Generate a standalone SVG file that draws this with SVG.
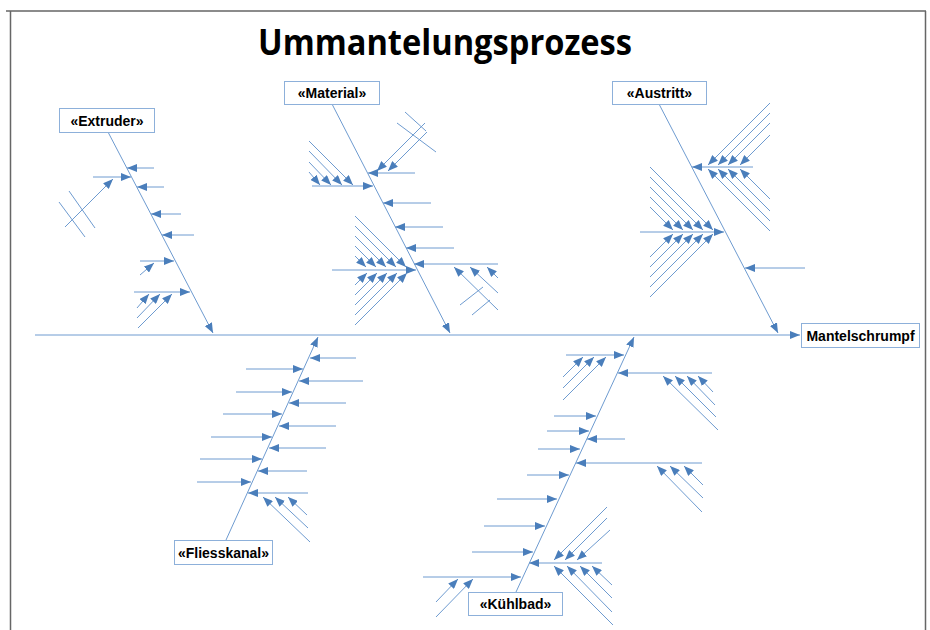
<svg xmlns="http://www.w3.org/2000/svg" width="930" height="630" viewBox="0 0 930 630">
<defs>
<marker id="ah" markerUnits="userSpaceOnUse" markerWidth="10" markerHeight="8" refX="10" refY="4" orient="auto" viewBox="0 0 10 8">
<path d="M0,0 L10,4 L0,8 z" fill="#4A7EBB"/>
</marker>
</defs>
<style>
line{stroke:#6E9BD0;stroke-width:1;fill:none}
.a{marker-end:url(#ah)}
.box{fill:#fff;stroke:#8DB0DA;stroke-width:1}
.lbl{font-family:"Liberation Sans",Arial,sans-serif;font-weight:bold;font-size:14px;fill:#000;text-anchor:middle}
.frame{stroke:#666;stroke-width:1.5;fill:none}
</style>
<rect width="930" height="630" fill="#fff"/>
<path class="frame" d="M10.5,630 L10.5,11 M6,11 L926,11 M925.5,11 L925.5,630"/>
<text x="445" y="55" font-family="'Open Sans','Liberation Sans',sans-serif" font-weight="bold" font-size="36" text-anchor="middle" textLength="374" lengthAdjust="spacingAndGlyphs" fill="#000">Ummantelungsprozess</text>

<g id="connectors">
<line class="a" x1="35" y1="335" x2="800" y2="335"/>
<!-- main bones -->
<line class="a" x1="108" y1="132" x2="213" y2="333"/>
<line class="a" x1="332" y1="104" x2="450" y2="333"/>
<line class="a" x1="659" y1="104" x2="778" y2="333"/>
<line class="a" x1="226" y1="540" x2="318" y2="337"/>
<line class="a" x1="516" y1="592" x2="634" y2="337"/>
<!-- Extruder -->
<line class="a" x1="154" y1="168" x2="127" y2="168"/>
<line class="a" x1="93" y1="177" x2="131" y2="177"/>
<line class="a" x1="65" y1="227" x2="113" y2="179"/>
<line x1="69" y1="191" x2="95" y2="228"/>
<line x1="59" y1="202" x2="85" y2="237"/>
<line class="a" x1="164" y1="187" x2="137" y2="187"/>
<line class="a" x1="181" y1="214" x2="151" y2="214"/>
<line class="a" x1="194" y1="235" x2="162" y2="235"/>
<line class="a" x1="140" y1="261" x2="174" y2="261"/>
<line class="a" x1="140" y1="275" x2="154" y2="263"/>
<line class="a" x1="134" y1="292" x2="190" y2="292"/>
<line class="a" x1="137" y1="308" x2="149" y2="294"/>
<line class="a" x1="137" y1="318" x2="160" y2="294"/>
<line class="a" x1="138" y1="328" x2="172" y2="294"/>
<!-- Material -->
<line class="a" x1="425" y1="123" x2="377" y2="171"/>
<line class="a" x1="427" y1="132" x2="388" y2="171"/>
<line x1="405" y1="112" x2="426" y2="131"/>
<line x1="397" y1="123" x2="436" y2="152"/>
<line class="a" x1="415" y1="173" x2="368" y2="173"/>
<line class="a" x1="312" y1="186" x2="373" y2="186"/>
<line class="a" x1="309" y1="141" x2="353" y2="185"/>
<line class="a" x1="309" y1="151" x2="342" y2="185"/>
<line class="a" x1="309" y1="162" x2="331" y2="185"/>
<line class="a" x1="309" y1="172" x2="320" y2="185"/>
<line class="a" x1="431" y1="203" x2="383" y2="203"/>
<line class="a" x1="443" y1="227" x2="395" y2="227"/>
<line class="a" x1="454" y1="248" x2="406" y2="248"/>
<line class="a" x1="498" y1="264" x2="414" y2="264"/>
<line class="a" x1="498" y1="278" x2="487" y2="267"/>
<line class="a" x1="498" y1="293" x2="470" y2="267"/>
<line class="a" x1="498" y1="310" x2="454" y2="267"/>
<line x1="460" y1="305" x2="483" y2="287"/>
<line x1="472" y1="315" x2="490" y2="300"/>
<line class="a" x1="332" y1="270" x2="416" y2="270"/>
<line class="a" x1="355" y1="216" x2="406" y2="267"/>
<line class="a" x1="355" y1="226" x2="396" y2="267"/>
<line class="a" x1="355" y1="236" x2="386" y2="267"/>
<line class="a" x1="355" y1="246" x2="376" y2="267"/>
<line class="a" x1="355" y1="256" x2="366" y2="267"/>
<line class="a" x1="355" y1="325" x2="407" y2="273"/>
<line class="a" x1="355" y1="315" x2="397" y2="273"/>
<line class="a" x1="355" y1="305" x2="387" y2="273"/>
<line class="a" x1="355" y1="295" x2="377" y2="273"/>
<line class="a" x1="355" y1="285" x2="367" y2="273"/>
<!-- Austritt -->
<line class="a" x1="753" y1="167" x2="692" y2="167"/>
<line class="a" x1="770" y1="103" x2="708" y2="165"/>
<line class="a" x1="770" y1="113" x2="718" y2="165"/>
<line class="a" x1="770" y1="123" x2="728" y2="165"/>
<line class="a" x1="770" y1="135" x2="740" y2="165"/>
<line class="a" x1="770" y1="231" x2="708" y2="169"/>
<line class="a" x1="770" y1="221" x2="718" y2="169"/>
<line class="a" x1="770" y1="211" x2="728" y2="169"/>
<line class="a" x1="770" y1="199" x2="740" y2="169"/>
<line class="a" x1="640" y1="232" x2="724" y2="232"/>
<line class="a" x1="650" y1="207" x2="673" y2="230"/>
<line class="a" x1="650" y1="197" x2="683" y2="230"/>
<line class="a" x1="650" y1="187" x2="693" y2="230"/>
<line class="a" x1="650" y1="177" x2="703" y2="230"/>
<line class="a" x1="650" y1="167" x2="713" y2="230"/>
<line class="a" x1="650" y1="257" x2="673" y2="234"/>
<line class="a" x1="650" y1="267" x2="683" y2="234"/>
<line class="a" x1="650" y1="277" x2="693" y2="234"/>
<line class="a" x1="650" y1="287" x2="703" y2="234"/>
<line class="a" x1="650" y1="297" x2="713" y2="234"/>
<line class="a" x1="805" y1="268" x2="745" y2="268"/>
<!-- Fliesskanal -->
<line class="a" x1="356" y1="358" x2="310" y2="358"/>
<line class="a" x1="363" y1="381" x2="299" y2="381"/>
<line class="a" x1="346" y1="403" x2="289" y2="403"/>
<line class="a" x1="336" y1="426" x2="279" y2="426"/>
<line class="a" x1="326" y1="448" x2="269" y2="448"/>
<line class="a" x1="307" y1="471" x2="258" y2="471"/>
<line class="a" x1="308" y1="493" x2="248" y2="493"/>
<line class="a" x1="307" y1="515" x2="288" y2="497"/>
<line class="a" x1="308" y1="528" x2="275" y2="497"/>
<line class="a" x1="310" y1="542" x2="263" y2="497"/>
<line class="a" x1="246" y1="369" x2="303" y2="369"/>
<line class="a" x1="236" y1="392" x2="292" y2="392"/>
<line class="a" x1="223" y1="414" x2="282" y2="414"/>
<line class="a" x1="211" y1="437" x2="272" y2="437"/>
<line class="a" x1="200" y1="459" x2="262" y2="459"/>
<line class="a" x1="197" y1="482" x2="251" y2="482"/>
<!-- Kuehlbad -->
<line class="a" x1="566" y1="355" x2="624" y2="355"/>
<line class="a" x1="563" y1="377" x2="583" y2="357"/>
<line class="a" x1="563" y1="388" x2="594" y2="357"/>
<line class="a" x1="563" y1="400" x2="606" y2="357"/>
<line class="a" x1="554" y1="416" x2="596" y2="416"/>
<line class="a" x1="547" y1="431" x2="589" y2="431"/>
<line class="a" x1="538" y1="449" x2="580" y2="449"/>
<line class="a" x1="527" y1="475" x2="569" y2="475"/>
<line class="a" x1="497" y1="499" x2="557" y2="499"/>
<line class="a" x1="484" y1="526" x2="545" y2="526"/>
<line class="a" x1="472" y1="552" x2="533" y2="552"/>
<line class="a" x1="423" y1="577" x2="521" y2="577"/>
<line class="a" x1="436" y1="602" x2="458" y2="579"/>
<line class="a" x1="436" y1="617" x2="473" y2="579"/>
<line class="a" x1="712" y1="373" x2="618" y2="373"/>
<line class="a" x1="713" y1="392" x2="698" y2="376"/>
<line class="a" x1="715" y1="405" x2="687" y2="376"/>
<line class="a" x1="716" y1="417" x2="675" y2="376"/>
<line class="a" x1="718" y1="430" x2="663" y2="376"/>
<line class="a" x1="625" y1="439" x2="587" y2="439"/>
<line class="a" x1="702" y1="463" x2="576" y2="463"/>
<line class="a" x1="703" y1="485" x2="684" y2="466"/>
<line class="a" x1="703" y1="498" x2="670" y2="466"/>
<line class="a" x1="702" y1="512" x2="657" y2="466"/>
<line class="a" x1="602" y1="563" x2="529" y2="563"/>
<line class="a" x1="607" y1="507" x2="554" y2="560"/>
<line class="a" x1="607" y1="518" x2="565" y2="560"/>
<line class="a" x1="610" y1="530" x2="577" y2="560"/>
<line class="a" x1="613" y1="625" x2="554" y2="566"/>
<line class="a" x1="612" y1="612" x2="567" y2="566"/>
<line class="a" x1="612" y1="598" x2="580" y2="566"/>
<line class="a" x1="612" y1="585" x2="592" y2="566"/>
</g>

<g id="node-extruder"><rect class="box" x="59.5" y="108.5" width="95" height="24"/><text class="lbl" x="107" y="125.5">«Extruder»</text></g>
<g id="node-material"><rect class="box" x="284.5" y="81.5" width="95" height="23"/><text class="lbl" x="332" y="98">«Material»</text></g>
<g id="node-austritt"><rect class="box" x="612.5" y="81.5" width="94" height="23"/><text class="lbl" x="659.5" y="98">«Austritt»</text></g>
<g id="node-fliesskanal"><rect class="box" x="174.5" y="540.5" width="98" height="24"/><text class="lbl" x="223.5" y="557.5">«Fliesskanal»</text></g>
<g id="node-kuehlbad"><rect class="box" x="468.5" y="592.5" width="94" height="23"/><text class="lbl" x="515.5" y="609">«Kühlbad»</text></g>
<g id="node-mantelschrumpf"><rect class="box" x="801.5" y="323.5" width="118" height="24"/><text class="lbl" x="860.5" y="340.5">Mantelschrumpf</text></g>
</svg>
